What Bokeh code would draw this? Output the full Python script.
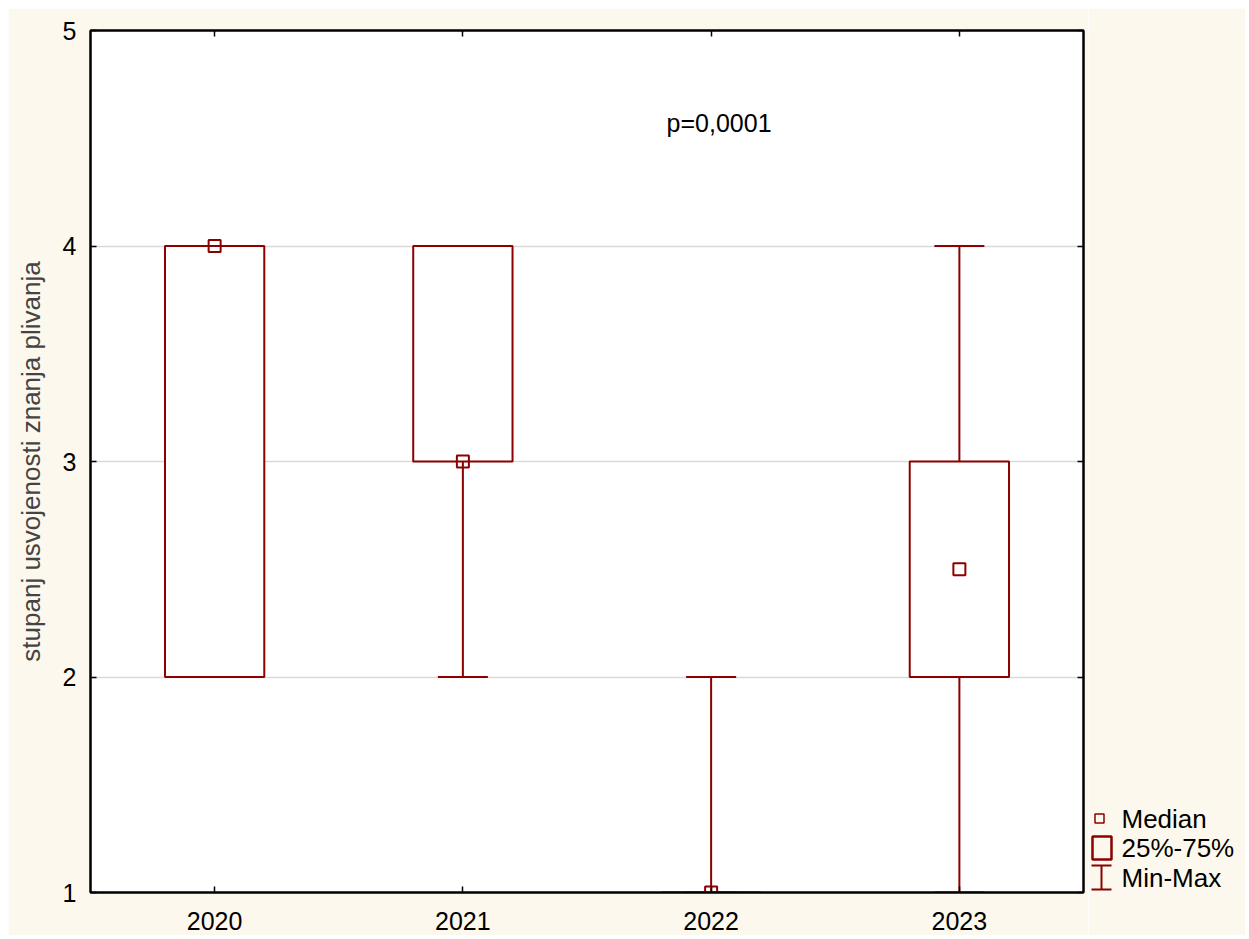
from bokeh.plotting import figure
from bokeh.models import (ColumnDataSource, FactorRange, Range1d, Whisker, TeeHead,
                          Label, CategoricalAxis, LinearAxis, FixedTicker)
from bokeh.layouts import row
from bokeh.embed import file_html
from bokeh.resources import INLINE
from bokeh.core.properties import value

# ---- data ----
years = ["2020", "2021", "2022", "2023"]
mins = [2, 2, 1, 1]
q1 = [2, 3, 1, 2]
medians = [4, 3, 1, 2.5]
q3 = [4, 4, 1, 3]
maxs = [4, 4, 2, 4]
y_ticks = [1, 2, 3, 4, 5]
y_label = "stupanj usvojenosti znanja plivanja"
p_text = "p=0,0001"
legend_labels = ["Median", "25%-75%", "Min-Max"]

RED = "#8B0000"
CREAM = "#fdf8ed"
FONT = "Liberation Sans"

src = ColumnDataSource(dict(year=years, mn=mins, q1=q1, med=medians, q3=q3, mx=maxs))

p = figure(width=1080, height=927, x_range=FactorRange(factors=years, range_padding=0),
           y_range=Range1d(1, 5), output_backend="svg", toolbar_location=None,
           min_border_left=82, min_border_top=22, min_border_bottom=43, min_border_right=5)
p.background_fill_color = "white"
p.border_fill_color = CREAM
p.outline_line_color = "black"
p.outline_line_width = 2

p.xgrid.grid_line_color = None
p.ygrid.grid_line_color = "#d9d9d9"
p.ygrid.grid_line_width = 1.5
p.yaxis.ticker = FixedTicker(ticks=y_ticks)
p.yaxis.minor_tick_line_color = None

for ax in (p.xaxis[0], p.yaxis[0]):
    ax.axis_line_color = "black"
    ax.axis_line_width = 2
    ax.major_tick_in = 6
    ax.major_tick_out = 0
    ax.major_tick_line_width = 1.5
    ax.major_label_text_font = FONT
    ax.major_label_text_font_size = "25px"
    ax.major_label_text_color = "black"

p.xaxis.major_label_standoff = 19
p.yaxis.major_label_standoff = 14
p.yaxis.axis_label = y_label
p.yaxis.axis_label_text_font = FONT
p.yaxis.axis_label_text_font_size = "26px"
p.yaxis.axis_label_text_font_style = "normal"
p.yaxis.axis_label_standoff = 14

top_ax = CategoricalAxis(major_label_text_font_size="1px", major_label_text_color=None,
                         major_label_standoff=0, major_tick_in=6, major_tick_out=0,
                         axis_line_width=2, major_tick_line_width=1.5)
p.add_layout(top_ax, "above")
right_ax = LinearAxis(ticker=FixedTicker(ticks=y_ticks), major_label_text_font_size="1px",
                      major_label_text_color=None, major_label_standoff=0,
                      major_tick_in=6, major_tick_out=0, axis_line_width=2,
                      major_tick_line_width=1.5, minor_tick_line_color=None)
p.add_layout(right_ax, "right")

wh = Whisker(base="year", lower="mn", upper="mx", source=src, line_color=RED, line_width=2,
             level="underlay",
             upper_head=TeeHead(size=50, line_color=RED, line_width=2),
             lower_head=TeeHead(size=50, line_color=RED, line_width=2))
p.add_layout(wh)

p.vbar(x="year", width=0.4, top="q3", bottom="q1", source=src,
       fill_color="white", line_color=RED, line_width=2)
p.scatter(x="year", y="med", source=src, marker="square", size=12,
          fill_alpha=0, line_color=RED, line_width=2)

p.add_layout(Label(x=2.532, y=4.573, text=p_text, text_font=FONT, text_font_size="25px",
                   text_align="center", text_baseline="middle", text_color="black"))

# ---- legend panel (its frame aligns with the main frame: page y 30..892) ----
leg = figure(width=157, height=927, x_range=Range1d(1088, 1245), y_range=Range1d(892, 30),
             output_backend="svg", toolbar_location=None, x_axis_location=None,
             y_axis_location=None, min_border=0)
leg.background_fill_color = CREAM
leg.border_fill_color = CREAM
leg.outline_line_color = None
leg.xgrid.grid_line_color = None
leg.ygrid.grid_line_color = None

leg.scatter(x=[1099], y=[818], marker="square", size=9, fill_alpha=0,
            line_color=RED, line_width=1.5)
leg.quad(left=[1092], right=[1111], top=[836], bottom=[859], fill_alpha=0,
         line_color=RED, line_width=2.5)
leg.segment(x0=[1101, 1091, 1091], y0=[865, 865, 889], x1=[1101, 1111, 1111],
            y1=[889, 865, 889], line_color=RED, line_width=2)
leg.text(x=[1121, 1121, 1121], y=[818, 847, 877], text=legend_labels, text_font=value(FONT),
         text_font_size="26px", text_baseline="middle", text_color="black")

layout = row(p, leg, spacing=0, margin=(8, 0, 0, 8))
open("out.html", "w").write(file_html(layout, INLINE))
